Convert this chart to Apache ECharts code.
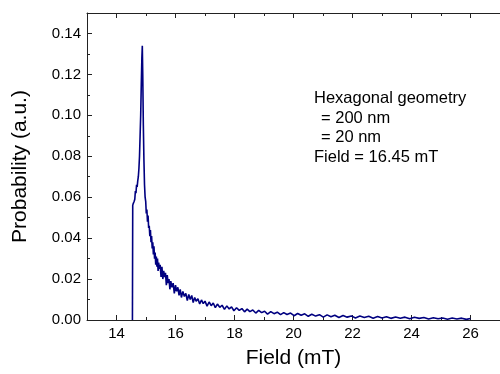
<!DOCTYPE html>
<html>
<head>
<meta charset="utf-8">
<script src="https://cdn.jsdelivr.net/npm/echarts@6/dist/echarts.min.js"></script>
<style>
html,body{margin:0;padding:0;background:#fff;}
#chart{width:500px;height:374px;}
</style>
</head>
<body>
<div id="chart"></div>
<script>
// Field values (mT)
const fieldValues = [
14.54,14.55,14.57,14.60,14.62,14.64,14.66,14.68,14.70,14.72,14.74,14.76,14.78,14.80,14.82,14.84,14.86,14.875,14.89,14.91,
14.93,14.95,14.97,14.99,15.01,15.03,15.05,15.07,15.09,15.11,15.13,15.15,15.17,15.19,15.21,15.23,15.25,15.27,15.29,15.31,
15.33,15.35,15.37,15.39,15.41,15.43,15.45,15.48,15.51,15.54,15.57,15.60,15.63,15.66,15.69,15.72,15.75,15.78,15.81,15.84,
15.88,15.92,15.96,16.00,16.04,16.08,16.12,16.16,16.20,16.25,16.30,16.35,16.40,16.45,16.50,16.55,16.60,16.65,16.70,16.76,
16.82,16.88,16.94,17.00,17.07,17.14,17.21,17.28,17.35,17.42,17.50,17.58,17.66,17.74,17.82,17.90,17.98,18.07,18.16,18.25,
18.34,18.43,18.52,18.62,18.72,18.82,18.92,19.02,19.12,19.23,19.34,19.45,19.56,19.67,19.78,19.90,20.02,20.14,20.26,20.38,
20.50,20.62,20.75,20.88,21.01,21.14,21.27,21.40,21.54,21.68,21.82,21.96,22.10,22.25,22.40,22.55,22.70,22.85,23.00,23.15,
23.30,23.46,23.62,23.78,23.94,24.10,24.26,24.42,24.58,24.74,24.90,25.06,25.22,25.38,25.54,25.70,25.86,26.00
];
// Probability values (a.u.)
const probValues = [
0,0.056,0.057,0.058,0.059,0.063,0.062,0.066,0.065,0.068,0.070,0.074,0.080,0.090,0.100,0.115,0.128,0.134,0.120,0.095,
0.078,0.066,0.060,0.058,0.052,0.054,0.048,0.051,0.045,0.046,0.041,0.044,0.038,0.041,0.035,0.038,0.032,0.036,0.030,0.033,
0.027,0.031,0.026,0.030,0.024,0.028,0.025,0.027,0.021,0.026,0.020,0.024,0.021,0.023,0.017,0.022,0.018,0.020,0.015,0.019,
0.016,0.018,0.013,0.017,0.014,0.016,0.012,0.015,0.011,0.014,0.0115,0.013,0.0095,0.0125,0.010,0.012,0.0085,0.011,0.0092,0.0104,
0.0078,0.0098,0.0080,0.0092,0.0068,0.0088,0.0070,0.0083,0.0060,0.0078,0.0062,0.0072,0.0052,0.0069,0.0054,0.0064,0.0045,0.0060,0.0047,0.0056,
0.0040,0.0053,0.0041,0.0049,0.0034,0.0047,0.0036,0.0043,0.0029,0.0041,0.0031,0.0038,0.0026,0.0036,0.0027,0.0034,0.0021,0.0032,0.0023,0.0030,
0.0018,0.0028,0.0019,0.0026,0.0014,0.0025,0.0016,0.0023,0.0012,0.0022,0.0014,0.0020,0.0010,0.0019,0.0012,0.0018,0.0009,0.0017,0.0010,0.0016,
0.0008,0.0015,0.0009,0.0014,0.0006,0.0013,0.0008,0.0012,0.0005,0.0011,0.0006,0.0010,0.0004,0.0010,0.0005,0.0009,0.0003,0.0007
];
// Tick labels
const xMajorTicks = [14,16,18,20,22,24,26];
const xMinorTicks = [15,17,19,21,23,25];
const yMajorTicks = [0,0.02,0.04,0.06,0.08,0.10,0.12,0.14];
const yMinorTicks = [0.01,0.03,0.05,0.07,0.09,0.11,0.13];
const annotationLines = ['Hexagonal geometry', '= 200 nm', '= 20 nm', 'Field = 16.45 mT'];

const FONT = 'Liberation Sans, Arial, sans-serif';
const AX = '#222';
const chart = echarts.init(document.getElementById('chart'), null, {renderer:'canvas'});

function xAx(pos, ticks, len, showLine, labels, name) {
  return {
    type:'value', position:pos, min:13, max:27,
    name: name || '', nameLocation:'middle', nameGap:28,
    nameTextStyle:{fontFamily:FONT, fontSize:21, color:'#000'},
    axisLine:{show:showLine, onZero:false, lineStyle:{color:AX, width:1}},
    axisTick:{show:true, inside:true, length:len, customValues:ticks, lineStyle:{color:AX, width:1}},
    axisLabel:{show:labels, customValues:ticks, margin:6, fontFamily:FONT, fontSize:15, color:'#000'},
    splitLine:{show:false}
  };
}
function yAx(ticks, len, showLine, labels, name) {
  return {
    type:'value', position:'left', min:0, max:0.15,
    name: name || '', nameLocation:'middle', nameGap:56,
    nameTextStyle:{fontFamily:FONT, fontSize:21, color:'#000'},
    axisLine:{show:showLine, onZero:false, lineStyle:{color:AX, width:1}},
    axisTick:{show:true, inside:true, length:len, customValues:ticks, lineStyle:{color:AX, width:1}},
    axisLabel:{show:labels, customValues:ticks, margin:6, fontFamily:FONT, fontSize:15, color:'#000',
      formatter:v=>v.toFixed(2)},
    splitLine:{show:false}
  };
}

const data = fieldValues.map((f,i)=>[f, probValues[i]]);

chart.setOption({
  animation:false,
  backgroundColor:'#fff',
  grid:{left:87, top:13, width:425, height:310, containLabel:false},
  xAxis:[
    xAx('bottom', xMajorTicks, 5, true, true, 'Field (mT)'),
    xAx('bottom', xMinorTicks, 3, false, false),
    xAx('top', xMajorTicks, 5, true, false),
    xAx('top', xMinorTicks, 3, false, false)
  ],
  yAxis:[
    yAx(yMajorTicks, 5, true, true, 'Probability (a.u.)'),
    yAx(yMinorTicks, 3, false, false)
  ],
  series:[{
    type:'line', data:data, xAxisIndex:0, yAxisIndex:0,
    showSymbol:false, symbol:'none',
    lineStyle:{color:'#000080', width:1.6},
    clip:true
  }],
  graphic: annotationLines.map((t,i)=>({
    type:'text',
    left: (i===1||i===2) ? 321 : 314,
    top: 90 + i*19.5,
    style:{text:t, fontFamily:FONT, fontSize:16.5, fill:'#000'}
  }))
});
</script>
</body>
</html>
